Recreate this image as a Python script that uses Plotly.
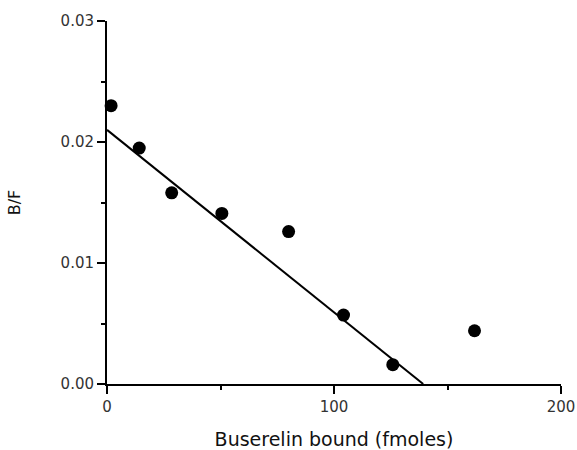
import plotly.graph_objects as go

bound = [1.8, 14.2, 28.5, 50.6, 80.0, 104.2, 125.9, 161.9]
bf = [0.0230, 0.0195, 0.0158, 0.0141, 0.0126, 0.0057, 0.0016, 0.0044]
fit_x = [0, 139.3]
fit_y = [0.0210, 0.0]
x_ticks = [0, 100, 200]
x_minor = [50, 150]
y_ticks = [0.00, 0.01, 0.02, 0.03]
y_minor = [0.005, 0.015, 0.025]
y_tick_labels = ["0.00", "0.01", "0.02", "0.03"]

fig = go.Figure()
fig.add_trace(go.Scatter(x=fit_x, y=fit_y, mode="lines",
                         line=dict(color="black", width=2), cliponaxis=False,
                         hoverinfo="skip"))
fig.add_trace(go.Scatter(x=bound, y=bf, mode="markers",
                         marker=dict(color="black", size=13), cliponaxis=False))

font = "DejaVu Sans, Liberation Sans, Arial, sans-serif"
fig.update_layout(
    width=577, height=450,
    margin=dict(l=107, r=16, t=21, b=66),
    plot_bgcolor="white", paper_bgcolor="white",
    showlegend=False,
    font=dict(family=font, color="black", size=15),
    xaxis=dict(range=[0, 200], tickvals=x_ticks, ticks="outside", ticklen=8,
               tickwidth=2, tickcolor="black", showline=True, linecolor="black",
               linewidth=2, showgrid=False, zeroline=False, automargin=False,
               tickfont=dict(size=15, color="#333"),
               minor=dict(tickvals=x_minor, ticks="outside", ticklen=4,
                          tickwidth=2, tickcolor="black", showgrid=False),
               title=dict(text="Buserelin bound (fmoles)",
                          font=dict(size=19, color="#111"), standoff=20)),
    yaxis=dict(range=[0, 0.03], tickvals=y_ticks, ticktext=y_tick_labels,
               ticks="outside", ticklen=8, tickwidth=2, tickcolor="black",
               showline=True, linecolor="black", linewidth=2, showgrid=False,
               zeroline=False, automargin=False,
               tickfont=dict(size=15, color="#333"),
               minor=dict(tickvals=y_minor, ticks="outside",
                          ticklen=4, tickwidth=2, tickcolor="black",
                          showgrid=False),
               title=dict(text="B/F", font=dict(size=16, color="#111"),
                          standoff=36)),
)
fig.write_html("out.html", config={"displayModeBar": False},
               post_script="document.body.style.margin='0px';")
